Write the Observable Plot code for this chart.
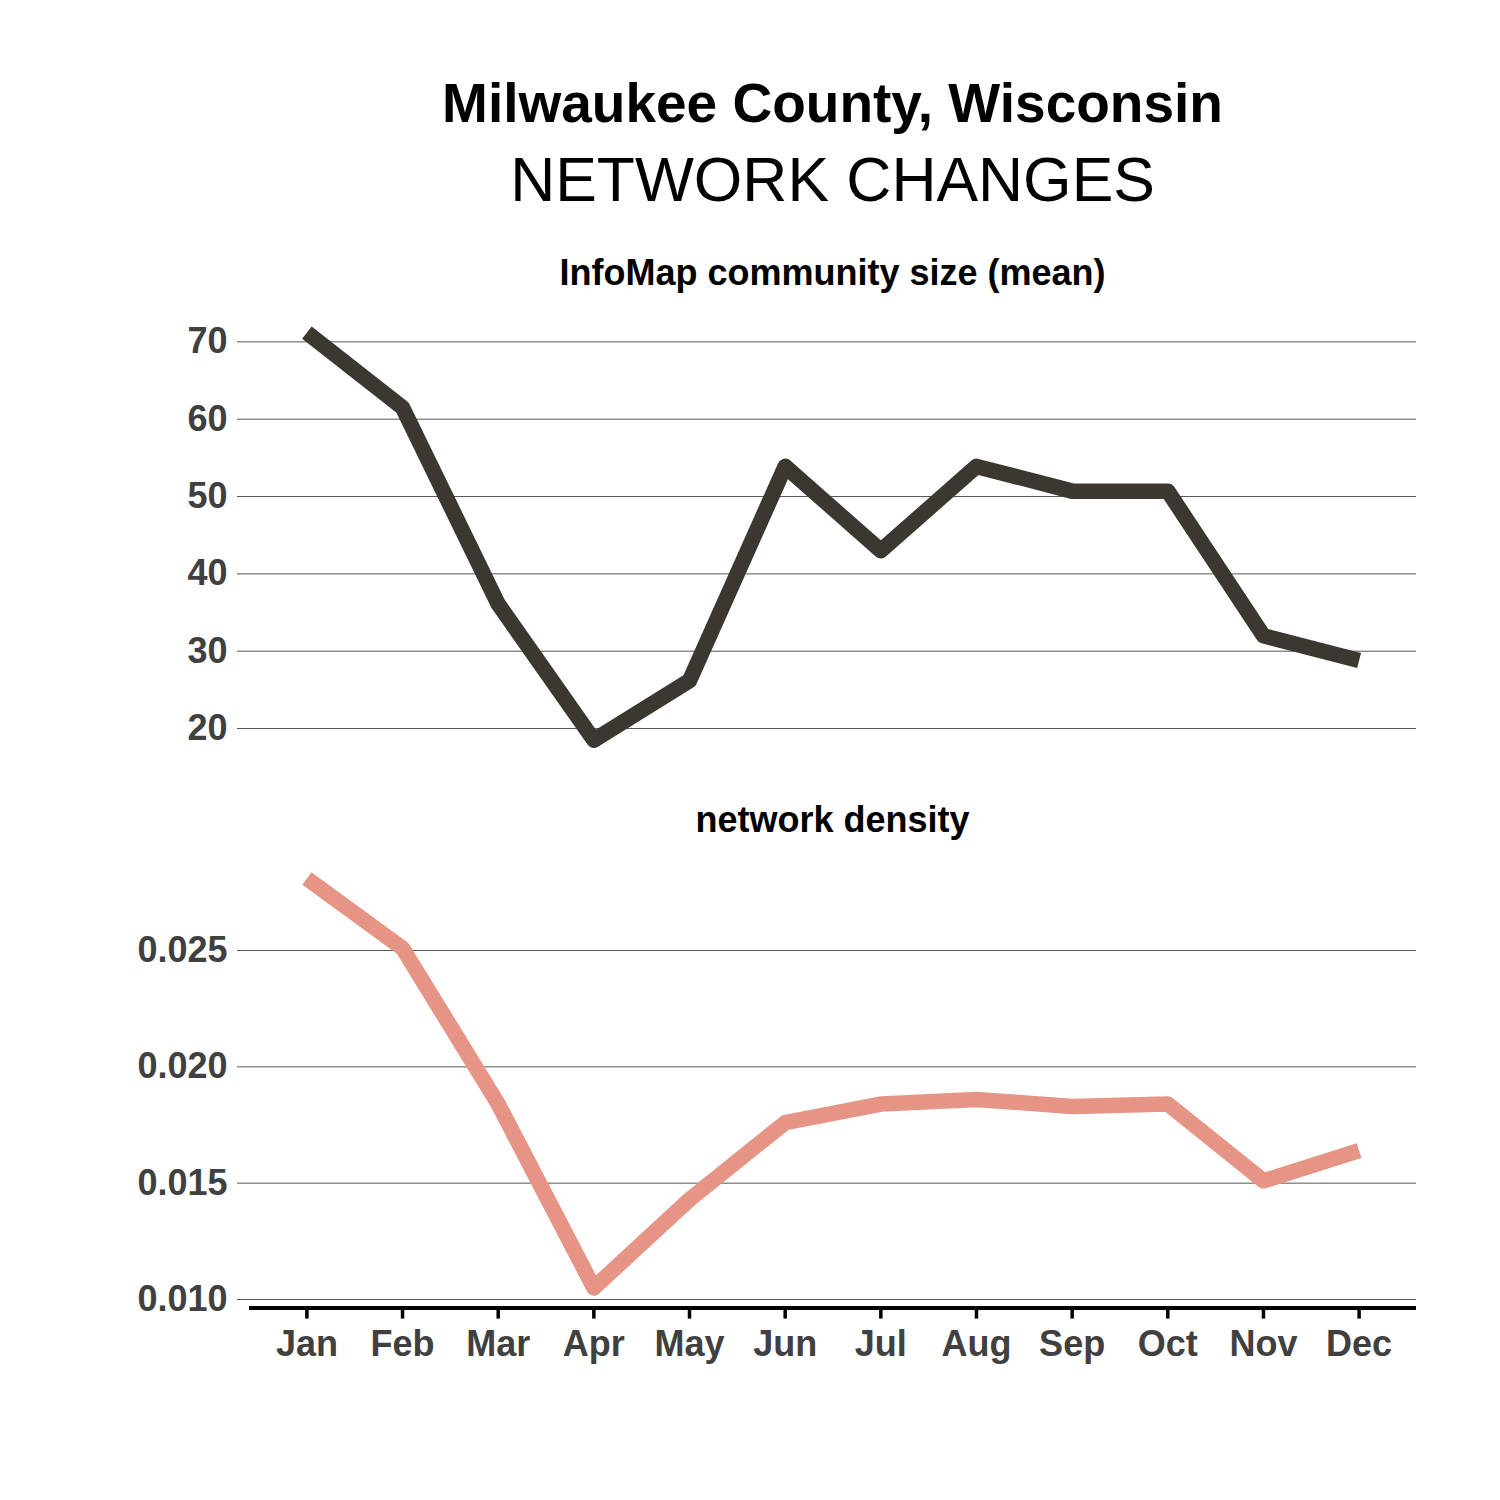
<!DOCTYPE html>
<html>
<head>
<meta charset="utf-8">
<script src="https://cdn.jsdelivr.net/npm/d3@7"></script>
<script src="https://cdn.jsdelivr.net/npm/@observablehq/plot@0.6"></script>
<style>
  html, body { margin: 0; padding: 0; background: #fff; }
  #wrap { position: relative; width: 1500px; height: 1500px; font-family: "Liberation Sans", Arial, sans-serif; }
  .t { position: absolute; left: 249px; width: 1167px; text-align: center; line-height: 1; color: #000; white-space: nowrap; }
  .plot { position: absolute; left: 0; }
</style>
</head>
<body>
<div id="wrap">
  <div class="t" style="top:75.5px;font-size:55px;font-weight:bold;">Milwaukee County, Wisconsin</div>
  <div class="t" style="top:149px;font-size:62.4px;">NETWORK CHANGES</div>
  <div class="t" style="top:255px;font-size:36px;font-weight:bold;">InfoMap community size (mean)</div>
  <div class="t" style="top:802px;font-size:36px;font-weight:bold;">network density</div>
  <div class="plot" id="p1" style="top:300px;"></div>
  <div class="plot" id="p2" style="top:840px;"></div>
</div>
<script>
const months = ["Jan","Feb","Mar","Apr","May","Jun","Jul","Aug","Sep","Oct","Nov","Dec"];
const communitySize = [71.2, 61.5, 36.1, 18.5, 26.2, 53.9, 43.0, 53.9, 50.7, 50.7, 32.0, 28.8];
const density = [0.0281, 0.0251, 0.0184, 0.0105, 0.0143, 0.0176, 0.0184, 0.0186, 0.0183, 0.0184, 0.0151, 0.0164];
const sizeTicks = [20, 30, 40, 50, 60, 70];
const densityTicks = [0.010, 0.015, 0.020, 0.025];

const sizeData = months.map((m, i) => ({month: m, value: communitySize[i]}));
const densData = months.map((m, i) => ({month: m, value: density[i]}));

const font = {fontFamily: "'Liberation Sans', Arial, sans-serif", fontSize: "36px", fontWeight: "bold", background: "transparent", overflow: "visible"};
const gridColor = "#555";
const labelColor = "#404040";

const p1 = Plot.plot({
  width: 1500, height: 480,
  marginLeft: 249, marginRight: 84, marginTop: 12, marginBottom: 19.5,
  style: font,
  x: {type: "point", domain: months, padding: 0.6, round: false, axis: null},
  y: {domain: [15.8, 73.8], axis: null},
  marks: [
    Plot.ruleY(sizeTicks, {stroke: gridColor, strokeWidth: 1}),
    Plot.axisY(sizeTicks, {tickSize: 12, tickPadding: 10, stroke: gridColor, strokeWidth: 1, fill: labelColor, fontSize: 36, fontWeight: "bold", label: null}),
    Plot.line(sizeData, {x: "month", y: "value", stroke: "#3a3830", strokeWidth: 15.5, strokeLinecap: "butt", strokeLinejoin: "round"})
  ]
});
document.getElementById("p1").appendChild(p1);

const yMin2 = 0.00963;
const p2 = Plot.plot({
  width: 1500, height: 560,
  marginLeft: 249, marginRight: 84, marginTop: 16.5, marginBottom: 92.4,
  style: font,
  x: {type: "point", domain: months, padding: 0.6, round: false, axis: null},
  y: {domain: [yMin2, 0.02902], axis: null},
  marks: [
    Plot.ruleY(densityTicks, {stroke: gridColor, strokeWidth: 1}),
    Plot.axisY(densityTicks, {tickSize: 12, tickPadding: 10, stroke: gridColor, strokeWidth: 1, fill: labelColor, fontSize: 36, fontWeight: "bold", tickFormat: d3.format(".3f"), label: null}),
    Plot.line(densData, {x: "month", y: "value", stroke: "#e59486", strokeWidth: 15.5, strokeLinecap: "butt", strokeLinejoin: "round"}),
    Plot.ruleY([yMin2], {stroke: "#000", strokeWidth: 4}),
    Plot.axisX(months, {tickSize: 11, tickPadding: 11, stroke: "#000", strokeWidth: 3.5, fill: labelColor, fontSize: 36, fontWeight: "bold", label: null})
  ]
});
document.getElementById("p2").appendChild(p2);
</script>
</body>
</html>
